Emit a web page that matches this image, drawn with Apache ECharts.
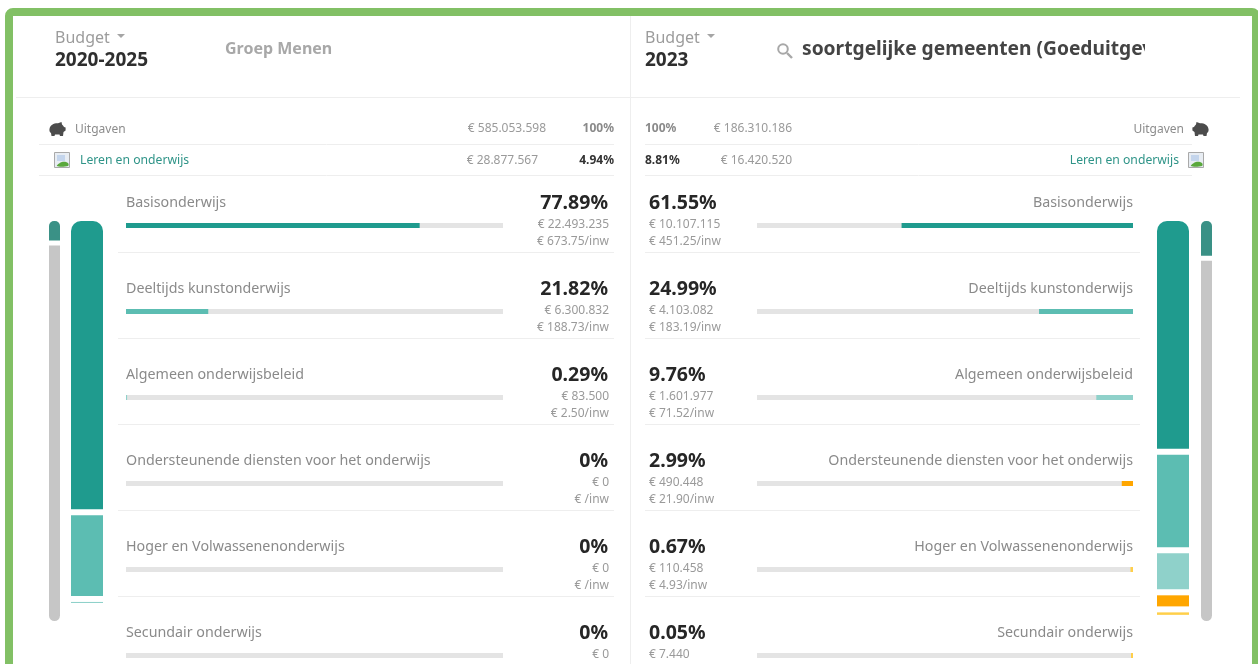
<!DOCTYPE html>
<html>
<head>
<meta charset="utf-8">
<style>html,body{margin:0;padding:0;background:#fff}#c{width:1258px;height:664px}</style>
<script src="https://cdn.jsdelivr.net/npm/echarts@6/dist/echarts.min.js"></script>
</head>
<body>
<div id="c"></div>
<script>
const categories = ['Basisonderwijs','Deeltijds kunstonderwijs','Algemeen onderwijsbeleid','Ondersteunende diensten voor het onderwijs','Hoger en Volwassenenonderwijs','Secundair onderwijs'];
const leftPct = [77.89, 21.82, 0.29, 0, 0, 0];
const rightPct = [61.55, 24.99, 9.76, 2.99, 0.67, 0.05];
const leftPctLabels = ['77.89%','21.82%','0.29%','0%','0%','0%'];
const rightPctLabels = ['61.55%','24.99%','9.76%','2.99%','0.67%','0.05%'];
const leftAmounts = ['€ 22.493.235','€ 6.300.832','€ 83.500','€ 0','€ 0','€ 0'];
const rightAmounts = ['€ 10.107.115','€ 4.103.082','€ 1.601.977','€ 490.448','€ 110.458','€ 7.440'];
const leftPerInw = ['€ 673.75/inw','€ 188.73/inw','€ 2.50/inw','€ /inw','€ /inw'];
const rightPerInw = ['€ 451.25/inw','€ 183.19/inw','€ 71.52/inw','€ 21.90/inw','€ 4.93/inw'];
const leftColors = ['#1f9b8e','#5cbdb2','#8fd1ca','#8fd1ca','#8fd1ca','#8fd1ca'];
const rightColors = ['#1f9b8e','#5cbdb2','#8fd1ca','#ffa600','#ffcf4a','#ffcf4a'];
const leftShare = 4.94, rightShare = 8.81;
const segGap = 1.62, gaugeGap = 1.27, minVisibleShare = 0.1;

const FONT = '"Noto Sans","Open Sans",sans-serif';
echarts.graphic.registerShape('pigIcon', echarts.graphic.extendPath(
  'M1.5 7 C2 3 6 1 10 1.2 L13.5 0 L14 2.6 C15 3.4 15.5 4.2 16 5 L17.6 5.4 L17.6 8.6 L15.5 10 L15 14 L12 14 L11.5 12.4 L7 12.4 L6.5 14 L3.5 14 L3 11 C1.5 10 1.2 8.5 1.5 7Z', {}));
const g = [];
function t(x, y, text, size, color, opts) {
  opts = opts || {};
  g.push({type:'text', x, y, z: opts.z||10, style:{text, fontFamily:FONT, fontSize:size, fill:color,
    fontWeight:opts.weight||'normal', align:opts.align||'left', verticalAlign:'middle'}});
}
function line(x1,y1,x2,y2,c){ g.push({type:'line', z:2, shape:{x1,y1,x2,y2}, style:{stroke:c||'#eeeeee', lineWidth:1}}); }

// frame
g.push({type:'rect', z:20, shape:{x:9,y:12,width:1247,height:700,r:4}, style:{fill:'none',stroke:'#82c065',lineWidth:8}});
// separators
line(16,97.5,1240,97.5);
line(630.5,16,630.5,664);
[144.5,175.5].forEach(y=>{ line(39,y,614,y); line(645,y,1192,y); });
for(let i=0;i<5;i++){ const y=252.5+86*i; line(118,y,614,y); line(645,y,1140,y); }

// header
t(55,38,'Budget',16,'#9c9c9c');
t(645,38,'Budget',16,'#9c9c9c');
[[117,34],[707,34]].forEach(p=>g.push({type:'polygon',z:10,shape:{points:[[p[0],p[1]],[p[0]+8,p[1]],[p[0]+4,p[1]+4]]},style:{fill:'#a5a5a5'}}));
t(55,61,'2020-2025',19,'#2f2f2f',{weight:'bold'});
t(645,61,'2023',19,'#2f2f2f',{weight:'bold'});
t(225,49,'Groep Menen',16,'#a8a8a8',{weight:'bold'});
t(802,50,'soortgelijke gemeenten (Goeduitgevers)',19.2,'#444444',{weight:'bold'});
g.push({type:'rect',z:11,shape:{x:1145,y:35,width:90,height:30},style:{fill:'#fff'}});
g.push({type:'circle',z:10,shape:{cx:783,cy:49,r:4.8},style:{fill:'none',stroke:'#a8a8a8',lineWidth:2}});
g.push({type:'line',z:10,shape:{x1:787,y1:53,x2:792,y2:58},style:{stroke:'#a8a8a8',lineWidth:2.4}});

// summary rows
t(75,130,'Uitgaven',12,'#8c8c8c');
t(546,129,'€ 585.053.598',12,'#9a9a9a',{align:'right'});
t(614,129,'100%',12,'#8a8a8a',{align:'right',weight:'bold'});
t(645,129,'100%',12,'#8a8a8a',{weight:'bold'});
t(792,129,'€ 186.310.186',12,'#9a9a9a',{align:'right'});
t(1184,130,'Uitgaven',12,'#8c8c8c',{align:'right'});
t(80,161,'Leren en onderwijs',12.2,'#2f9488');
t(538,161,'€ 28.877.567',12,'#9a9a9a',{align:'right'});
t(614,161,'4.94%',12,'#333',{align:'right',weight:'bold'});
t(645,161,'8.81%',12,'#333',{weight:'bold'});
t(792,161,'€ 16.420.520',12,'#9a9a9a',{align:'right'});
t(1179,161,'Leren en onderwijs',12.2,'#2f9488',{align:'right'});

// pig icons
[[48,122,false],[1192,122,true]].forEach(p=>g.push({type:'pigIcon',z:10,x:p[0]+(p[2]?18:0),y:p[1],scaleX:p[2]?-1:1,
  style:{fill:'#4c4c4c'}}));
// image placeholder icons
[[54,152],[1188,152]].forEach(p=>{
  g.push({type:'rect',z:10,shape:{x:p[0]+.5,y:p[1]+.5,width:15,height:15},style:{fill:'#e8edf3',stroke:'#a9a9a9',lineWidth:1}});
  g.push({type:'rect',z:10,shape:{x:p[0]+3,y:p[1]+3,width:8,height:6},style:{fill:'#c4d5ec'}});
  g.push({type:'polygon',z:10,shape:{smooth:0.4,points:[[p[0]+3,p[1]+14],[p[0]+8,p[1]+10],[p[0]+14,p[1]+11],[p[0]+14,p[1]+14]]},style:{fill:'#5aa83c'}});
});

// row texts
categories.forEach((c,i)=>{
  const d=86*i;
  t(126,203+d,c,14.25,'#8a8a8a');
  t(1133,203+d,c,14.25,'#8a8a8a',{align:'right'});
  t(608,203.5+d,leftPctLabels[i],19.5,'#262626',{align:'right',weight:'bold'});
  t(649,203.5+d,rightPctLabels[i],19.5,'#262626',{weight:'bold'});
  t(609,225+d,leftAmounts[i],12,'#9a9a9a',{align:'right'});
  t(649,225+d,rightAmounts[i],12,'#9a9a9a');
  if(i<leftPerInw.length){
    t(609,242+d,leftPerInw[i],12,'#9a9a9a',{align:'right'});
    t(649,242+d,rightPerInw[i],12,'#9a9a9a');
  }
});

// grids: 0 left rows, 1 right rows, 2 left stack, 3 right stack, 4 left gauge, 5 right gauge
const rowTop=225.5, rowH=430;
const grids=[
  {left:126,width:377,top:rowTop,height:rowH},
  {left:757,width:376,top:rowTop,height:rowH},
  {left:71,width:32,top:221,height:400},
  {left:1157,width:32,top:221,height:400},
  {left:49,width:11,top:221,height:400},
  {left:1201,width:11,top:221,height:400}
];
const hide={show:false};
const xAxis=[
  {type:'value',gridIndex:0,min:0,max:100,...hide},
  {type:'value',gridIndex:1,min:0,max:100,inverse:true,...hide},
  {type:'category',gridIndex:2,data:['x'],...hide},
  {type:'category',gridIndex:3,data:['x'],...hide},
  {type:'category',gridIndex:4,data:['x'],...hide},
  {type:'category',gridIndex:5,data:['x'],...hide}
];
const stackMax = 100 + 5*segGap;
const yAxis=[
  {type:'category',gridIndex:0,data:categories,inverse:true,boundaryGap:false,...hide},
  {type:'category',gridIndex:1,data:categories,inverse:true,boundaryGap:false,...hide},
  {type:'value',gridIndex:2,min:0,max:stackMax,inverse:true,...hide},
  {type:'value',gridIndex:3,min:0,max:stackMax,inverse:true,...hide},
  {type:'value',gridIndex:4,min:0,max:100+gaugeGap,inverse:true,...hide},
  {type:'value',gridIndex:5,min:0,max:100+gaugeGap,inverse:true,...hide}
];
const series=[];
function rowBars(vals,colors,idx,minH){
  series.push({type:'bar',xAxisIndex:idx,yAxisIndex:idx,barWidth:5,barMinHeight:minH,silent:true,clip:false,
    showBackground:true,backgroundStyle:{color:'#e4e4e4'},
    data:vals.map((v,i)=>({value:v,itemStyle:{color:colors[i]}}))});
}
rowBars(leftPct,leftColors,0,0);
rowBars(rightPct,rightColors,1,2);
function stackBars(vals,colors,idx){
  const nz=vals.filter(v=>v>=minVisibleShare);
  nz.forEach((v,i)=>{
    series.push({type:'bar',xAxisIndex:idx,yAxisIndex:idx,stack:'s'+idx,barWidth:32,silent:true,
      data:[v],itemStyle:{color:colors[i],borderRadius:i===0?[10,10,0,0]:0}});
    if(i<nz.length-1) series.push({type:'bar',xAxisIndex:idx,yAxisIndex:idx,stack:'s'+idx,barWidth:32,silent:true,
      data:[segGap],itemStyle:{color:'transparent'}});
  });
}
stackBars(leftPct,leftColors,2);
stackBars(rightPct,rightColors,3);
function gauge(share,idx){
  const base={type:'bar',xAxisIndex:idx,yAxisIndex:idx,stack:'g'+idx,barWidth:11,silent:true};
  series.push({...base,data:[share],itemStyle:{color:'#3a9186',borderRadius:[5,5,0,0]}});
  series.push({...base,data:[gaugeGap],itemStyle:{color:'transparent'}});
  series.push({...base,data:[100-share],itemStyle:{color:'#c6c6c6',borderRadius:[0,0,6,6]}});
}
gauge(leftShare,4);
gauge(rightShare,5);

const chart=echarts.init(document.getElementById('c'),null,{renderer:'canvas'});
chart.setOption({animation:false,backgroundColor:'#fff',tooltip:{show:false},legend:{show:false},
  grid:grids,xAxis,yAxis,series,graphic:{elements:g}});
</script>
</body>
</html>
